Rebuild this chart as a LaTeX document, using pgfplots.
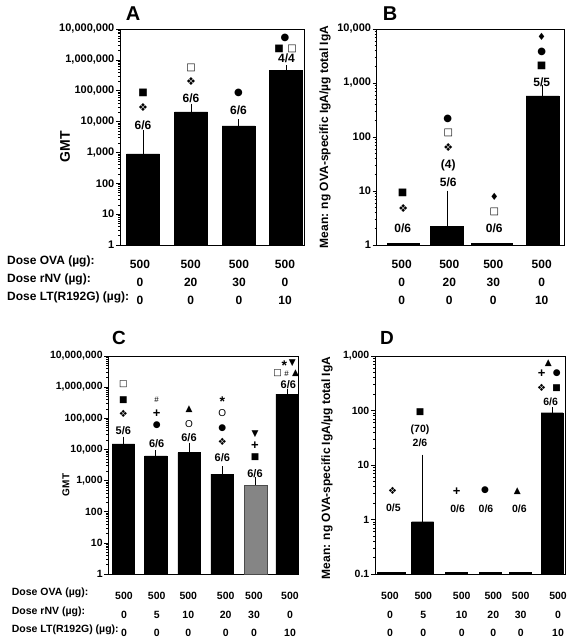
\documentclass[border=0pt]{standalone}
\usepackage{pgfplots}
\pgfplotsset{compat=1.18}
\usepackage{fontspec}
\setmainfont{Liberation Sans}
\newfontfamily\sym{DejaVu Sans}
\newcommand\fs[1]{\fontsize{#1}{#1}\selectfont}
\newcommand\sy[2]{{\sym\mdseries\fontsize{#1}{#1}\selectfont #2}}
\newcommand\annfont{\bfseries\fs{12}}
\newcommand\An[4][]{\node[inner sep=0pt,font=\annfont,xshift={(#2-\pl)*1pt},yshift={(\pb-#3)*1pt},#1] at (rel axis cs:0,0) {#4};}

\pgfplotsset{
    scale only axis, clip=false,
    log origin=infty,
    axis line style={line width=0.8pt},
    tick align=outside, ytick pos=left, xtick pos=bottom,
    major tick length=4pt, minor tick length=2pt,
    yminorticks=true,
    ytick style={line width=0.6pt, black},
    xtick style={draw=none},
    log ticks with fixed point,
    /pgf/number format/1000 sep={,},
    /pgf/number format/assume math mode=true,
    xticklabel style={align=center},
    yticklabel style={inner sep=1.5pt},
}

\begin{document}
\begin{tikzpicture}
\useasboundingbox (0,0) rectangle (572pt,644pt);

% ---------------- Panel A ----------------
\def\pl{120}\def\pb{245}
\renewcommand\annfont{\bfseries\fs{12}}
\begin{semilogyaxis}[anchor=south west, at={(120pt,399pt)}, width=184pt, height=216pt,
  xmin=120, xmax=304, ymin=1, ymax=10000000,
  yticklabel style={font=\bfseries\fs{11}},
  xtick={140,190.7,239,285},
  xticklabels={{500\\0\\0},{500\\20\\0},{500\\30\\0},{500\\0\\10}},
  xticklabel style={font=\bfseries\fontsize{12}{17.8}\selectfont, yshift=-8pt},
]
\addplot[ybar, bar shift=0pt, fill=black, draw=black, bar width=33pt,
  error bars/.cd, y dir=plus, y explicit, error bar style={line width=0.7pt, black},
  error mark options={line width=0.7pt, black, mark size=2.5pt}] table[x=x,y=y,y error=e] {
x y e
143 900 3400
191 20600 11000
238.5 7300 2500
286 450000 100000
};
\An[font=\bfseries\fs{20}]{133}{14}{A}
\An[rotate=90,font=\bfseries\fs{14}]{65}{147}{GMT}
\An[anchor=west]{7}{261.7}{Dose OVA (µg):}
\An[anchor=west]{7}{279.3}{Dose rNV (µg):}
\An[anchor=west]{7}{297.3}{Dose LT(R192G) (µg):}
\An{143}{125}{6/6}
\An{143}{107.7}{\sy{11}{❖}}
\An{143}{92.7}{\sy{10}{■}}
\An{191}{98.3}{6/6}
\An{191}{81.7}{\sy{11}{❖}}
\An{191}{68.3}{\sy{10}{□}}
\An{238.5}{110}{6/6}
\An{238.5}{93.3}{\sy{10}{●}}
\An{286.5}{58.3}{4/4}
\An{279}{49}{\sy{10}{■}}
\An{292}{49}{\sy{10}{□}}
\An{285}{38.3}{\sy{10}{●}}
\end{semilogyaxis}

% ---------------- Panel B ----------------
\def\pl{376.7}\def\pb{245}
\begin{semilogyaxis}[anchor=south west, at={(376.7pt,399pt)}, width=187.3pt, height=216pt,
  xmin=376.7, xmax=564, ymin=1, ymax=10000,
  yticklabel style={font=\bfseries\fs{11}},
  xtick={401.7,449.3,493.3,541.7},
  xticklabels={{500\\0\\0},{500\\20\\0},{500\\30\\0},{500\\0\\10}},
  xticklabel style={font=\bfseries\fontsize{12}{17.8}\selectfont, yshift=-8pt},
]
\addplot[ybar, bar shift=0pt, fill=black, draw=black, bar width=32pt] coordinates {(403.5,1.07)};
\addplot[ybar, bar shift=0pt, fill=black, draw=black, bar width=41pt] coordinates {(491.3,1.07)};
\addplot[ybar, bar shift=0pt, fill=black, draw=black, bar width=33pt,
  error bars/.cd, y dir=plus, y explicit, error bar style={line width=0.7pt, black},
  error mark options={line width=0.7pt, black, mark size=2.5pt}] table[x=x,y=y,y error=e] {
x y e
447 2.2 6.9
542.7 575 255
};
\An[font=\bfseries\fs{20}]{390}{14}{B}
\An[rotate=90]{325}{137}{Mean: ng OVA-specific IgA/µg total IgA}
\An{402.7}{228.3}{0/6}
\An{403.3}{208.3}{\sy{11}{❖}}
\An{402.7}{192.7}{\sy{10}{■}}
\An{448.3}{182.7}{5/6}
\An{448.3}{165}{(4)}
\An{448.3}{147.7}{\sy{11}{❖}}
\An{448.3}{132.7}{\sy{10}{□}}
\An{447.7}{119}{\sy{10}{●}}
\An{494.3}{228.3}{0/6}
\An{494.3}{212}{\sy{10}{□}}
\An{494.3}{197.3}{\sy{10}{♦}}
\An{541.7}{82.7}{5/5}
\An{541.7}{65.7}{\sy{10}{■}}
\An{541.7}{52.3}{\sy{10}{●}}
\An{541.7}{37.3}{\sy{10}{♦}}
\end{semilogyaxis}

% ---------------- Panel C ----------------
\def\pl{108.3}\def\pb{574}
\renewcommand\annfont{\bfseries\fs{11}}
\begin{semilogyaxis}[anchor=south west, at={(108.3pt,70pt)}, width=189.7pt, height=218pt,
  xmin=108.3, xmax=298, ymin=1, ymax=10000000,
  yticklabel style={font=\bfseries\fs{10.5}},
  xtick={124,156.7,188.3,225.7,254,290},
  xticklabels={{500\\0\\0},{500\\5\\0},{500\\10\\0},{500\\20\\0},{500\\30\\0},{500\\0\\10}},
  xticklabel style={font=\bfseries\fontsize{10.5}{18.2}\selectfont, yshift=-11pt},
]
\addplot[ybar, bar shift=0pt, fill=black, draw=black, bar width=22.5pt,
  error bars/.cd, y dir=plus, y explicit, error bar style={line width=0.7pt, black},
  error mark options={line width=0.7pt, black, mark size=2.5pt}] table[x=x,y=y,y error=e] {
x y e
123.3 15000 6400
155.8 6200 1700
189 7900 5800
222 1600 800
287 600000 150000
};
\addplot[ybar, bar shift=0pt, fill=black!48, draw=black!70, bar width=22.5pt,
  error bars/.cd, y dir=plus, y explicit, error bar style={line width=0.7pt, black},
  error mark options={line width=0.7pt, black, mark size=2.5pt}] table[x=x,y=y,y error=e] {
x y e
255.5 710 340
};
\An[font=\bfseries\fs{19}]{119}{338}{C}
\An[rotate=90,font=\bfseries\fs{10}]{66}{485}{GMT}
\An[anchor=west,font=\bfseries\fs{10.5}]{11.7}{592.7}{Dose OVA (µg):}
\An[anchor=west,font=\bfseries\fs{10.5}]{11.7}{611.7}{Dose rNV (µg):}
\An[anchor=west,font=\bfseries\fs{10.5}]{11.7}{630}{Dose LT(R192G) (µg):}
\An{123.3}{431}{5/6}
\An{123.3}{414.3}{\sy{10}{❖}}
\An{123.3}{400}{\sy{9}{■}}
\An{123.3}{384.3}{\sy{9}{□}}
\An{156.7}{443.3}{6/6}
\An{156.7}{425.3}{\sy{9}{●}}
\An{156.7}{414}{\fs{13}+}
\An[font=\fs{8}]{156.7}{400}{\#}
\An{189}{437.3}{6/6}
\An[font=\fs{10}]{189}{424}{O}
\An{189}{409.3}{\sy{9}{▲}}
\An{222.3}{457.7}{6/6}
\An{222.3}{442}{\sy{10}{❖}}
\An{222.3}{428.3}{\sy{9}{●}}
\An[font=\fs{10}]{222.3}{413.3}{O}
\An[font=\bfseries\fs{14}]{222.3}{401.5}{*}
\An{255}{473.3}{6/6}
\An{255}{456.7}{\sy{9}{■}}
\An{255}{446}{\fs{13}+}
\An{255}{434.3}{\sy{9}{▼}}
\An{288.3}{385}{6/6}
\An{277.7}{373.3}{\sy{9}{□}}
\An[font=\fs{8}]{286.5}{373.3}{\#}
\An{295.5}{373.3}{\sy{9}{▲}}
\An[font=\bfseries\fs{14}]{284.3}{365.5}{*}
\An{292.3}{363.3}{\sy{9}{▼}}
\end{semilogyaxis}

% ---------------- Panel D ----------------
\def\pl{375}\def\pb{574}
\renewcommand\annfont{\bfseries\fs{10.5}}
\begin{semilogyaxis}[anchor=south west, at={(375pt,70pt)}, width=190pt, height=218pt,
  xmin=375, xmax=565, ymin=0.1, ymax=1000,
  yticklabel style={font=\bfseries\fs{10.5}},
  xtick={390,423.3,461.7,493.3,520.7,558},
  xticklabels={{500\\0\\0},{500\\5\\0},{500\\10\\0},{500\\20\\0},{500\\30\\0},{500\\0\\10}},
  xticklabel style={font=\bfseries\fontsize{10.5}{18.2}\selectfont, yshift=-11pt},
]
\addplot[ybar, bar shift=0pt, fill=black, draw=black, bar width=28pt] coordinates {(391,0.106)};
\addplot[ybar, bar shift=0pt, fill=black, draw=black, bar width=22pt] coordinates {(456,0.106) (490,0.106) (520.5,0.106)};
\addplot[ybar, bar shift=0pt, fill=black, draw=black, bar width=22pt,
  error bars/.cd, y dir=plus, y explicit, error bar style={line width=0.7pt, black},
  error mark options={line width=0.7pt, black, mark size=2.5pt}] table[x=x,y=y,y error=e] {
x y e
422.5 0.91 13.1
552 91 14
};
\An[font=\bfseries\fs{19}]{387}{338}{D}
\An[rotate=90,font=\bfseries\fs{12}]{327}{468}{Mean: ng OVA-specific IgA/µg total IgA}
\An{393.3}{508.3}{0/5}
\An{392.7}{490.7}{\sy{10}{❖}}
\An{420}{443.3}{2/6}
\An{420}{430}{(70)}
\An{420}{411.7}{\sy{9}{■}}
\An{457.7}{509.3}{0/6}
\An{456.7}{491.7}{\fs{13}+}
\An{486}{509.3}{0/6}
\An{485}{490}{\sy{9}{●}}
\An{519.3}{509.3}{0/6}
\An{517.3}{490.7}{\sy{9}{▲}}
\An{550.7}{401.7}{6/6}
\An{541.7}{387.7}{\sy{10}{❖}}
\An{556.7}{387.7}{\sy{9}{■}}
\An{541.7}{373.3}{\fs{13}+}
\An{556.7}{373.3}{\sy{9}{●}}
\An{548.3}{362.7}{\sy{9}{▲}}
\end{semilogyaxis}
\end{tikzpicture}
\end{document}
